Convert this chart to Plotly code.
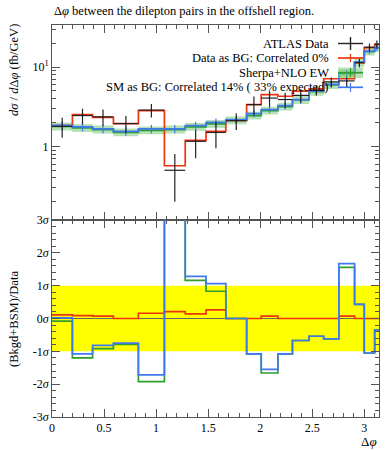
import plotly.graph_objects as go
from plotly.subplots import make_subplots

# ---------------- data ----------------
edges = [0.0, 0.196, 0.39, 0.59, 0.83, 1.08, 1.28, 1.48, 1.67, 1.87, 2.01,
         2.17, 2.31, 2.47, 2.61, 2.756, 2.907, 3.0, 3.1, 3.14159]

data_vals = [1.79, 2.45, 2.36, 1.94, 2.87, 0.50, 1.16, 1.50, 2.11, 3.37,
             4.07, 3.90, 4.40, 5.10, 6.50, 6.70, 11.4, 17.8, 19.4]
data_err = [0.50, 0.54, 0.55, 0.47, 0.56, 0.30, 0.45, 0.55, 0.50, 0.90,
            0.90, 0.85, 0.85, 0.70, 0.90, 1.10, 1.50, 2.00, 2.20]

red_vals = [1.83, 2.52, 2.33, 1.94, 2.83, 0.57, 1.19, 1.55, 2.13, 3.37,
            4.51, 4.29, 4.97, 5.33, 7.13, 7.13, 11.4, 17.6, 19.4]

green_vals = [1.79, 1.71, 1.63, 1.50, 1.59, 1.63, 1.76, 1.92, 2.13, 2.45,
              2.83, 3.18, 3.85, 4.90, 5.95, 8.30, 11.4, 15.7, 17.4]
green_up = [2.00, 1.92, 1.83, 1.68, 1.78, 1.83, 1.97, 2.15, 2.39, 2.74,
            3.17, 3.56, 4.31, 5.49, 6.66, 9.30, 12.8, 17.6, 19.5]
green_dn = [1.59, 1.52, 1.45, 1.34, 1.42, 1.45, 1.57, 1.71, 1.90, 2.18,
            2.52, 2.83, 3.43, 4.36, 5.30, 7.39, 10.1, 14.0, 15.5]

blue_vals = [1.84, 1.76, 1.66, 1.55, 1.66, 1.66, 1.83, 2.01, 2.18, 2.59,
             2.91, 3.27, 3.90, 4.97, 6.04, 8.49, 11.6, 15.9, 17.6]
blue_err = [0.22, 0.21, 0.20, 0.19, 0.20, 0.20, 0.22, 0.24, 0.23, 0.26,
            0.29, 0.35, 0.45, 0.54, 0.60, 0.80, 1.0, 1.4, 1.6]

# ratio panel, in units of sigma
red_ratio = [0.11, 0.09, 0.07, 0.0, 0.16, 0.21, 0.14, 0.26, 0.0, 0.0,
             0.07, 0.0, 0.0, 0.0, 0.0, 0.07, 0.0, 0.0, 0.0]
green_ratio = [-0.08, -1.20, -0.92, -0.79, -1.92, 4.5, 1.16, 0.83, 0.0, -1.08,
               -1.66, -1.08, -0.67, -0.54, -0.62, 1.56, 0.43, -1.05, -0.35]
blue_ratio = [0.02, -1.08, -0.82, -0.75, -1.72, 4.5, 1.28, 1.06, 0.0, -1.08,
              -1.55, -1.08, -0.67, -0.54, -0.62, 1.67, 0.43, -1.05, -0.35]

x_ticks = [0, 0.5, 1, 1.5, 2, 2.5, 3]
x_ticklabels = ["0", "0.5", "1", "1.5", "2", "2.5", "3"]
y_ticks = [1, 10]
y_ticklabels = ["1", "10<sup>1</sup>"]
r_ticks = [-3, -2, -1, 0, 1, 2, 3]
r_ticklabels = ["-3<i>σ</i>", "-2<i>σ</i>", "-1<i>σ</i>", "0<i>σ</i>",
                "1<i>σ</i>", "2<i>σ</i>", "3<i>σ</i>"]

# ---------------- styling ----------------
RED = "#EE3311"
BLUE = "#4079EE"
GREEN = "#2E9E2E"
BAND = "rgba(120,200,120,0.55)"
AX = "#555555"
FONT = "Liberation Serif"

centers = [(a + b) / 2 for a, b in zip(edges[:-1], edges[1:])]
halfw = [(b - a) / 2 for a, b in zip(edges[:-1], edges[1:])]


def step(v):
    return list(v) + [v[-1]]


fig = make_subplots(rows=2, cols=1, shared_xaxes=True, vertical_spacing=0,
                    row_heights=[195, 197])

# ---- top panel ----
fig.add_trace(go.Scatter(x=edges, y=step(green_dn), mode="lines",
                         line=dict(width=0, shape="hv"), hoverinfo="skip",
                         showlegend=False), row=1, col=1)
fig.add_trace(go.Scatter(x=edges, y=step(green_up), mode="lines",
                         line=dict(width=0, shape="hv"), fill="tonexty",
                         fillcolor=BAND, hoverinfo="skip",
                         showlegend=False), row=1, col=1)
fig.add_trace(go.Scatter(x=edges, y=step(green_vals), mode="lines",
                         line=dict(color=GREEN, width=1.7, shape="hv"),
                         showlegend=False), row=1, col=1)
fig.add_trace(go.Scatter(x=edges, y=step(red_vals), mode="lines",
                         line=dict(color=RED, width=1.7, shape="hv"),
                         showlegend=False), row=1, col=1)
fig.add_trace(go.Scatter(x=edges, y=step(blue_vals), mode="lines",
                         line=dict(color=BLUE, width=1.7, shape="hv"),
                         showlegend=False), row=1, col=1)
fig.add_trace(go.Scatter(x=centers, y=blue_vals, mode="markers",
                         marker=dict(size=1, color=BLUE),
                         error_y=dict(type="data", array=blue_err, width=0,
                                      thickness=1.2, color=BLUE),
                         showlegend=False), row=1, col=1)
fig.add_trace(go.Scatter(x=centers, y=data_vals, mode="markers",
                         marker=dict(size=1, color="black"),
                         error_x=dict(type="data", array=halfw, width=0,
                                      thickness=1.2, color="#222222"),
                         error_y=dict(type="data", array=data_err, width=0,
                                      thickness=1.2, color="#222222"),
                         showlegend=False), row=1, col=1)

# ---- ratio panel ----
fig.add_trace(go.Scatter(x=edges, y=step(red_ratio), mode="lines",
                         line=dict(color=RED, width=1.7, shape="hv"),
                         showlegend=False), row=2, col=1)
fig.add_trace(go.Scatter(x=edges, y=step(green_ratio), mode="lines",
                         line=dict(color=GREEN, width=1.7, shape="hv"),
                         showlegend=False), row=2, col=1)
fig.add_trace(go.Scatter(x=edges, y=step(blue_ratio), mode="lines",
                         line=dict(color=BLUE, width=1.7, shape="hv"),
                         showlegend=False), row=2, col=1)

# yellow 1-sigma band
fig.add_shape(type="rect", xref="x2 domain", x0=0, x1=1, yref="y2", y0=-1, y1=1,
              fillcolor="#FFFF00", line=dict(width=0), layer="below")

x_minor = [round(0.1 * i, 1) for i in range(0, 32)]
common_ax = dict(showline=True, linecolor=AX, linewidth=1, mirror="ticks",
                 ticks="inside", tickcolor=AX, ticklen=8, tickwidth=1,
                 showgrid=False, zeroline=False,
                 tickfont=dict(family=FONT, size=12, color="black"))

fig.update_xaxes(range=[0, 3.14159], tickmode="array", tickvals=x_ticks,
                 ticktext=x_ticklabels,
                 minor=dict(tickmode="array", tickvals=x_minor, ticks="inside",
                            ticklen=4, tickcolor=AX, showgrid=False),
                 **common_ax)
fig.update_xaxes(showticklabels=False, row=1, col=1)

y_minor = [0.2, 0.3, 0.4, 0.5, 0.6, 0.7, 0.8, 0.9, 2, 3, 4, 5, 6, 7, 8, 9, 20, 30]
fig.update_yaxes(type="log", range=[-0.928, 1.531], tickmode="array",
                 tickvals=y_ticks, ticktext=y_ticklabels,
                 minor=dict(tickmode="array", tickvals=y_minor, ticks="inside",
                            ticklen=4, tickcolor=AX, showgrid=False),
                 row=1, col=1, **common_ax)
r_minor = [round(-3 + 0.2 * i, 1) for i in range(31)]
r_ax = dict(common_ax)
r_ax["zeroline"] = True
fig.update_yaxes(range=[-3, 3], tickmode="array", tickvals=r_ticks,
                 ticktext=r_ticklabels, zerolinecolor="#666666", zerolinewidth=1,
                 minor=dict(tickmode="array", tickvals=r_minor, ticks="inside",
                            ticklen=4, tickcolor=AX, showgrid=False),
                 row=2, col=1, **r_ax)

# ---------------- text ----------------
# pixel helpers (page coordinates; plot area spans x 52..379, y 25..417)
W_PLOT = 327.0
H_PLOT = 392.0


def px(xpix):
    return (xpix - 52) / W_PLOT


def py(ypix):
    return (417 - ypix) / H_PLOT


annotations = [
    dict(text="Δ<i>φ</i> between the dilepton pairs in the offshell region.",
         x=0, y=py(11), xanchor="left", yanchor="middle",
         font=dict(size=12.5)),
    dict(text="<i>dσ</i> / <i>d</i>Δ<i>φ</i> (fb/GeV)", textangle=-90,
         x=px(14), y=py(22), xanchor="center", yanchor="top",
         font=dict(size=12.5)),
    dict(text="(Bkgd+BSM)/Data", textangle=-90,
         x=px(14), y=py(319), xanchor="center", yanchor="middle",
         font=dict(size=12.5)),
    dict(text="Δ<i>φ</i>", x=1, y=py(441), xanchor="right", yanchor="middle",
         font=dict(size=13)),
]

legend_labels = ["ATLAS Data", "Data as BG: Correlated 0%", "Sherpa+NLO EW",
                 "SM as BG: Correlated 14% ( 33% expected)"]
legend_rows = [43.5, 58, 72.7, 87.3]
for lab, yr in zip(legend_labels, legend_rows):
    annotations.append(dict(text=lab, x=px(331), y=py(yr), xanchor="right",
                            yanchor="middle", font=dict(size=12.5)))

for a in annotations:
    a.update(xref="paper", yref="paper", showarrow=False)
    a["font"].update(family=FONT, color="black")
fig.update_layout(annotations=annotations)

# legend samples
sx0, sx1, sxc = px(338), px(363), px(350.5)
shapes = [
    dict(type="line", x0=sx0, x1=sx1, y0=py(43.5), y1=py(43.5),
         line=dict(color="#222222", width=1.4)),
    dict(type="line", x0=sxc, x1=sxc, y0=py(37), y1=py(50),
         line=dict(color="#222222", width=1.4)),
    dict(type="line", x0=sx0, x1=sx1, y0=py(58), y1=py(58),
         line=dict(color=RED, width=1.7)),
    dict(type="line", x0=sxc, x1=sxc, y0=py(54), y1=py(62),
         line=dict(color=RED, width=1.2)),
    dict(type="rect", x0=sx0, x1=sx1, y0=py(78), y1=py(67.5),
         fillcolor=BAND, line=dict(width=0)),
    dict(type="line", x0=sx0, x1=sx1, y0=py(72.7), y1=py(72.7),
         line=dict(color=GREEN, width=1.7)),
    dict(type="line", x0=sxc, x1=sxc, y0=py(68), y1=py(77),
         line=dict(color=GREEN, width=1.2)),
    dict(type="line", x0=sx0, x1=sx1, y0=py(87.3), y1=py(87.3),
         line=dict(color=BLUE, width=1.7)),
    dict(type="line", x0=sxc, x1=sxc, y0=py(83), y1=py(92),
         line=dict(color=BLUE, width=1.2)),
]
for s in shapes:
    s.update(xref="paper", yref="paper")
    fig.add_shape(**s)

fig.update_layout(width=392, height=450,
                  margin=dict(l=52, r=13, t=25, b=33, autoexpand=False),
                  paper_bgcolor="white", plot_bgcolor="white",
                  showlegend=False, hovermode=False,
                  font=dict(family=FONT, size=12, color="black"))

# remove the default 8px page margin so the figure fills the window exactly
fig.write_html("out.html", config={"displayModeBar": False},
               post_script="document.body.style.margin='0';")
